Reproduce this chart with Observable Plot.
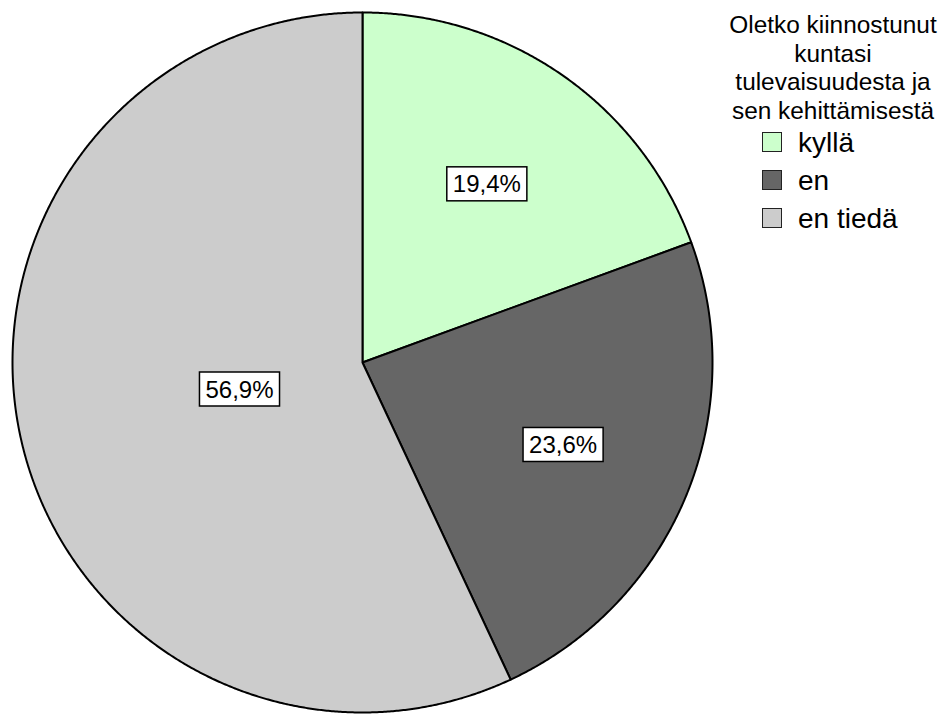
<!DOCTYPE html>
<html>
<head>
<meta charset="utf-8">
<script src="https://cdn.jsdelivr.net/npm/d3@7"></script>
<script src="https://cdn.jsdelivr.net/npm/@observablehq/plot@0.6"></script>
<style>
  html, body { margin: 0; padding: 0; background: #fff; }
  #wrap { position: relative; width: 946px; height: 715px; font-family: "Liberation Sans", Arial, sans-serif; }
  #wrap svg { position: absolute; left: 0; top: 0; }
  .ltitle { position: absolute; left: 720px; width: 226px; top: 11px; text-align: center; font-size: 24.4px; line-height: 28.5px; color: #000; }
  .litem { position: absolute; left: 762px; height: 28px; font-size: 28px; line-height: 28px; color: #000; white-space: nowrap; }
  .sw { position: absolute; left: 0; top: 3px; width: 18px; height: 18px; border: 1.5px solid #222; }
  .lt { position: absolute; left: 36px; top: 0; }
</style>
</head>
<body>
<div id="wrap"></div>
<script>
const categories = ["kyllä", "en", "en tiedä"];
const percents = [19.4, 23.6, 56.9];
const labels = ["19,4%", "23,6%", "56,9%"];
const colors = ["#ccffcc", "#666666", "#cccccc"];
const legendTitle = ["Oletko kiinnostunut", "kuntasi", "tulevaisuudesta ja", "sen kehittämisestä"];

const arcs = d3.pie().sort(null).value(d => d).startAngle(0).endAngle(2 * Math.PI)(percents);

// polygon points for each slice (angle measured clockwise from top)
const pts = [];
arcs.forEach((a, i) => {
  const cat = categories[i];
  pts.push({cat, x: 0, y: 0});
  const n = Math.max(4, Math.ceil((a.endAngle - a.startAngle) / 0.005));
  for (let k = 0; k <= n; k++) {
    const t = a.startAngle + (a.endAngle - a.startAngle) * k / n;
    pts.push({cat, x: Math.sin(t), y: Math.cos(t)});
  }
  pts.push({cat, x: 0, y: 0});
});

const labelR = i => (percents[i] > 50 ? 0.36 : 0.62);
const labelData = arcs.map((a, i) => {
  const m = (a.startAngle + a.endAngle) / 2;
  return {text: labels[i], x: labelR(i) * Math.sin(m), y: labelR(i) * Math.cos(m)};
});

const chart = Plot.plot({
  width: 946,
  height: 715,
  marginLeft: 12,
  marginRight: 234,
  marginTop: 12,
  marginBottom: 3,
  style: {fontFamily: "Liberation Sans, Arial, sans-serif", background: "transparent"},
  x: {domain: [-1, 1], axis: null},
  y: {domain: [-1, 1], axis: null},
  color: {domain: categories, range: colors},
  marks: [
    Plot.line(pts, {x: "x", y: "y", z: "cat", fill: "cat", stroke: "black", strokeWidth: 2, curve: "linear", strokeLinejoin: "round"}),
    Plot.text(labelData, {x: "x", y: "y", text: "text", fontSize: 24, fill: "black", className: "pielabel"})
  ]
});

const wrap = document.getElementById("wrap");
wrap.appendChild(chart);

// white boxes behind labels
chart.querySelectorAll(".pielabel text").forEach(t => {
  const b = t.getBBox();
  const r = document.createElementNS("http://www.w3.org/2000/svg", "rect");
  const padX = 6, padY = 3.5;
  r.setAttribute("x", b.x - padX);
  r.setAttribute("y", b.y - padY);
  r.setAttribute("width", b.width + 2 * padX);
  r.setAttribute("height", b.height + 2 * padY);
  r.setAttribute("fill", "white");
  r.setAttribute("stroke", "black");
  r.setAttribute("stroke-width", "1.5");
  const tr = t.getAttribute("transform");
  if (tr) r.setAttribute("transform", tr);
  t.parentNode.insertBefore(r, t);
});

// legend
const title = document.createElement("div");
title.className = "ltitle";
title.innerHTML = legendTitle.join("<br>");
wrap.appendChild(title);

categories.forEach((c, i) => {
  const item = document.createElement("div");
  item.className = "litem";
  item.style.top = (129 + i * 38) + "px";
  const sw = document.createElement("div");
  sw.className = "sw";
  sw.style.background = colors[i];
  const lt = document.createElement("div");
  lt.className = "lt";
  lt.textContent = c;
  item.appendChild(sw);
  item.appendChild(lt);
  wrap.appendChild(item);
});
</script>
</body>
</html>
